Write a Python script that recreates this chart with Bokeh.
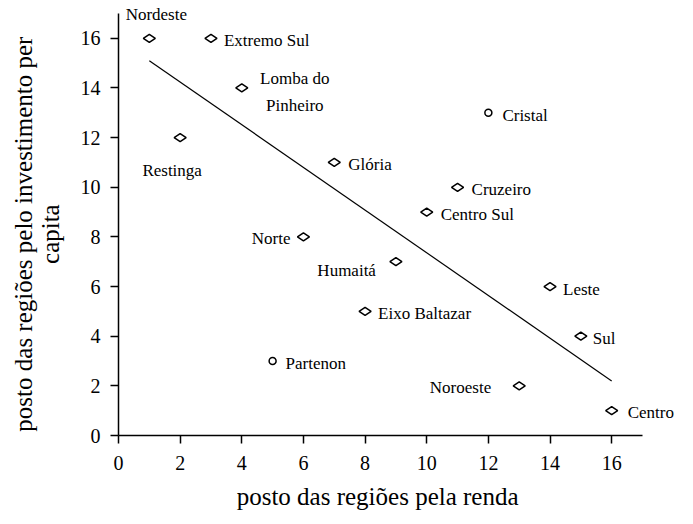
from bokeh.plotting import figure
from bokeh.models import ColumnDataSource, FixedTicker, Range1d
from bokeh.core.properties import value
from bokeh.embed import file_html
from bokeh.resources import INLINE

# ---- data ----
regions = ["Nordeste", "Extremo Sul", "Lomba do\nPinheiro", "Restinga", "Glória",
           "Cristal", "Cruzeiro", "Centro Sul", "Norte", "Humaitá", "Leste",
           "Eixo Baltazar", "Sul", "Partenon", "Noroeste", "Centro"]
renda_rank = [1, 3, 4, 2, 7, 12, 11, 10, 6, 9, 14, 8, 15, 5, 13, 16]
invest_rank = [16, 16, 14, 12, 11, 13, 10, 9, 8, 7, 6, 5, 4, 3, 2, 1]
circle_regions = ["Cristal", "Partenon"]
trend_x = [1, 16]
trend_y = [15.1, 2.2]
ticks = [0, 2, 4, 6, 8, 10, 12, 14, 16]

# ---- label placement (styling, screen pixels; +dy = down) ----
label_style = {
    "Nordeste": (7, -24, "center"),
    "Extremo Sul": (13, 2, "left"),
    "Lomba do\nPinheiro": (53, 4, "center"),
    "Restinga": (-8, 33, "center"),
    "Glória": (14, 2, "left"),
    "Cristal": (14, 3, "left"),
    "Cruzeiro": (14, 2, "left"),
    "Centro Sul": (14, 2, "left"),
    "Norte": (-13, 2, "right"),
    "Humaitá": (-20, 9, "right"),
    "Leste": (13, 3, "left"),
    "Eixo Baltazar": (13, 2, "left"),
    "Sul": (12, 2, "left"),
    "Partenon": (13, 2, "left"),
    "Noroeste": (-28, 2, "right"),
    "Centro": (16, 2, "left"),
}

SERIF = "Liberation Serif"
PAD_Y = "\u00a0" * 5
PAD_X = "\u00a0" * 7

# frame extended beyond the axes (0..17) so that the point labels are not clipped
p = figure(width=690, height=510, output_backend="svg", toolbar_location=None,
           x_range=Range1d(0, 18.233), y_range=Range1d(0, 17.483),
           frame_width=562, frame_height=434,
           min_border_left=118, min_border_right=10, min_border_top=1,
           min_border_bottom=75)
p.outline_line_color = None
p.xgrid.visible = False
p.ygrid.visible = False
p.background_fill_color = "white"

dia_idx = [i for i, r in enumerate(regions) if r not in circle_regions]
cir_idx = [i for i, r in enumerate(regions) if r in circle_regions]

src_d = ColumnDataSource(dict(x=[renda_rank[i] for i in dia_idx],
                              y=[invest_rank[i] for i in dia_idx]))
src_c = ColumnDataSource(dict(x=[renda_rank[i] for i in cir_idx],
                              y=[invest_rank[i] for i in cir_idx]))

p.line(trend_x, trend_y, line_color="black", line_width=1.2)
p.scatter("x", "y", source=src_d, marker="diamond", size=12, angle=1.5708,
          fill_color="white", line_color="black", line_width=1.5)
p.scatter("x", "y", source=src_c, marker="circle", size=7,
          fill_color="white", line_color="black", line_width=1.5)

for anchor in ["left", "center", "right"]:
    idx = [i for i, r in enumerate(regions) if label_style[r][2] == anchor]
    src = ColumnDataSource(dict(
        x=[renda_rank[i] for i in idx], y=[invest_rank[i] for i in idx],
        t=[regions[i] for i in idx],
        dx=[label_style[regions[i]][0] for i in idx],
        dy=[label_style[regions[i]][1] for i in idx]))
    p.text("x", "y", text="t", source=src, x_offset="dx", y_offset="dy",
           text_align=anchor, text_baseline="middle",
           text_font=value(SERIF), text_font_size="17px", text_color="black",
           text_line_height=1.4)

for ax in (p.xaxis, p.yaxis):
    ax.ticker = FixedTicker(ticks=ticks)
    ax.bounds = (0, 17)
    ax.minor_tick_line_color = None
    ax.major_tick_in = 0
    ax.major_tick_out = 8
    ax.axis_line_width = 1.5
    ax.major_tick_line_width = 1.5
    ax.axis_line_color = "black"
    ax.major_tick_line_color = "black"
    ax.major_label_text_font = SERIF
    ax.major_label_text_font_size = "20px"
    ax.major_label_text_color = "black"
    ax.axis_label_text_font = SERIF
    ax.axis_label_text_font_style = "normal"
    ax.axis_label_text_color = "black"
    ax.axis_label_text_line_height = 1.0
    ax.axis_label_text_font_size = "25px"

p.xaxis.axis_label = "posto das regiões pela renda" + PAD_X
p.yaxis.axis_label = ("posto das regiões pelo investimento per" + PAD_Y + "\n"
                      + "capita" + PAD_Y)
p.xaxis.major_label_standoff = 12
p.yaxis.major_label_standoff = 10
p.xaxis.axis_label_standoff = 10
p.yaxis.axis_label_standoff = 14

open("out.html", "w").write(file_html(p, INLINE))
